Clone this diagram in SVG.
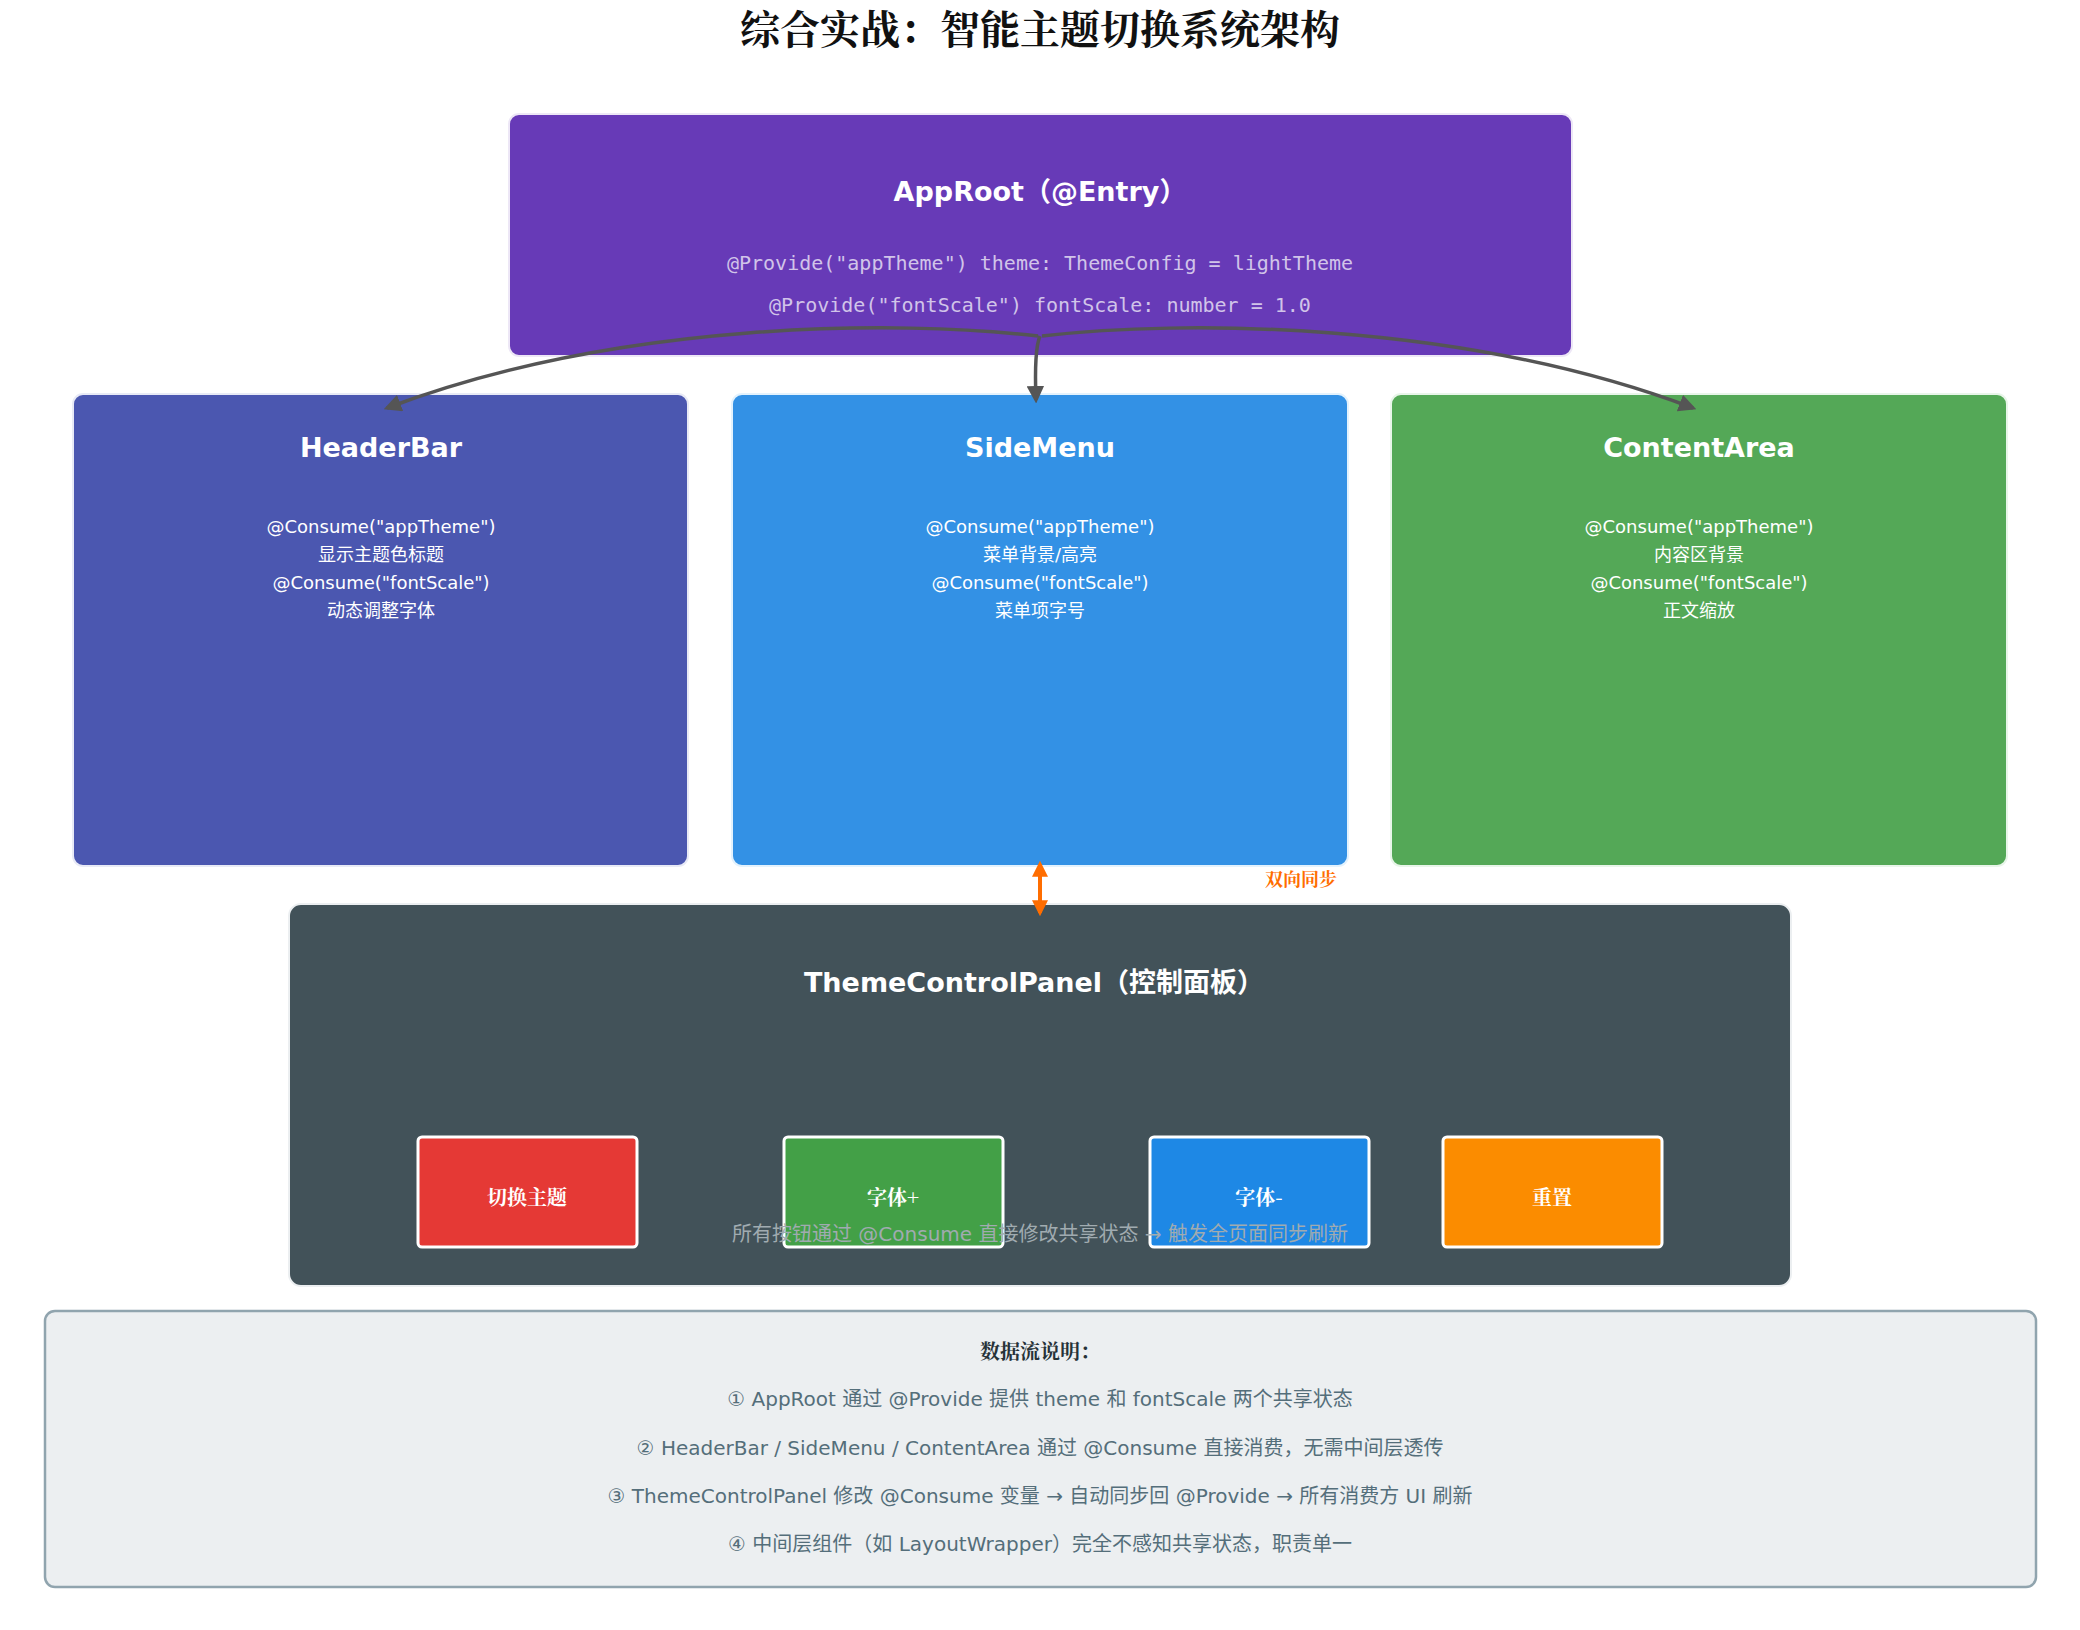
<svg xmlns="http://www.w3.org/2000/svg" width="2080" height="1630" viewBox="0 0 2080 1630">
<style>
.t{font-family:"DejaVu Sans","Noto Sans CJK SC",sans-serif;text-anchor:middle}
.s{font-family:"Noto Serif CJK SC","Noto Sans CJK SC",serif;font-weight:bold;text-anchor:middle}
.h{font-size:27px;font-weight:bold;fill:#fff}
.c{font-size:18px;fill:#fff}
.m{font-family:"DejaVu Sans Mono","Liberation Mono",monospace;font-size:20px;fill:#d1c4e9;text-anchor:middle}
.n{font-size:20px;fill:#546e7a}
.conn{fill:none;stroke:#555;stroke-width:3.5}
</style>
<defs>
<marker id="a" viewBox="0 0 10 10" refX="8" refY="5" markerWidth="5" markerHeight="5" orient="auto"><path d="M0,0L10,5L0,10z" fill="#555"/></marker>
<marker id="o" viewBox="0 0 10 10" refX="8" refY="5" markerWidth="4" markerHeight="4" orient="auto-start-reverse"><path d="M0,0L10,5L0,10z" fill="#ff6d00"/></marker>
</defs>
<rect width="2080" height="1630" fill="#fff"/>
<text class="s" x="1040" y="44" font-size="40" fill="#111">综合实战：智能主题切换系统架构</text>
<g id="approot"><rect x="509" y="114" width="1063" height="242" rx="10" fill="#673ab7" stroke="#ede7f6" stroke-width="2"/>
<text class="t h" x="1040" y="201">AppRoot（@Entry）</text>
<text class="m" x="1040" y="270">@Provide("appTheme") theme: ThemeConfig = lightTheme</text>
<text class="m" x="1040" y="312">@Provide("fontScale") fontScale: number = 1.0</text></g>
<g id="headerbar"><rect x="73" y="394" width="615" height="472" rx="10" fill="#4b57b0" stroke="#e8eaf6" stroke-width="2"/>
<text class="t h" x="381" y="457">HeaderBar</text>
<text class="t c" x="381" y="533">@Consume("appTheme")</text><text class="t c" x="381" y="561">显示主题色标题</text>
<text class="t c" x="381" y="589">@Consume("fontScale")</text><text class="t c" x="381" y="617">动态调整字体</text></g>
<g id="sidemenu"><rect x="732" y="394" width="616" height="472" rx="10" fill="#3391e5" stroke="#e3f2fd" stroke-width="2"/>
<text class="t h" x="1040" y="457">SideMenu</text>
<text class="t c" x="1040" y="533">@Consume("appTheme")</text><text class="t c" x="1040" y="561">菜单背景/高亮</text>
<text class="t c" x="1040" y="589">@Consume("fontScale")</text><text class="t c" x="1040" y="617">菜单项字号</text></g>
<g id="contentarea"><rect x="1391" y="394" width="616" height="472" rx="10" fill="#54a857" stroke="#e8f5e9" stroke-width="2"/>
<text class="t h" x="1699" y="457">ContentArea</text>
<text class="t c" x="1699" y="533">@Consume("appTheme")</text><text class="t c" x="1699" y="561">内容区背景</text>
<text class="t c" x="1699" y="589">@Consume("fontScale")</text><text class="t c" x="1699" y="617">正文缩放</text></g>
<g id="panel"><rect x="289" y="904" width="1502" height="382" rx="12" fill="#425259" stroke="#eceff1" stroke-width="2"/>
<text class="t h" x="1034" y="992">ThemeControlPanel（控制面板）</text></g>
<g id="btn1"><rect x="418" y="1137" width="219" height="110" rx="4" fill="#e53935" stroke="#fff" stroke-width="3"/><text class="s" x="527" y="1205" font-size="20" fill="#fff">切换主题</text></g>
<g id="btn2"><rect x="784" y="1137" width="219" height="110" rx="4" fill="#43a047" stroke="#fff" stroke-width="3"/><text class="s" x="893" y="1205" font-size="20" fill="#fff">字体+</text></g>
<g id="btn3"><rect x="1150" y="1137" width="219" height="110" rx="4" fill="#1e88e5" stroke="#fff" stroke-width="3"/><text class="s" x="1259" y="1205" font-size="20" fill="#fff">字体-</text></g>
<g id="btn4"><rect x="1443" y="1137" width="219" height="110" rx="4" fill="#fb8c00" stroke="#fff" stroke-width="3"/><text class="s" x="1552" y="1205" font-size="20" fill="#fff">重置</text></g>
<text class="t" x="1040" y="1241" font-size="20" fill="#a0abb0">所有按钮通过 @Consume 直接修改共享状态 → 触发全页面同步刷新</text>
<g id="connectors">
<path class="conn" d="M1038,336 C900,320 620,320 387,408" marker-end="url(#a)"/>
<path class="conn" d="M1042,336 C1180,320 1460,320 1693,408" marker-end="url(#a)"/>
<path class="conn" d="M1040,336 Q1034,350 1036,400" marker-end="url(#a)"/>
<line x1="1040" y1="864" x2="1040" y2="913" stroke="#ff6d00" stroke-width="4" marker-start="url(#o)" marker-end="url(#o)"/>
<text class="s" x="1301" y="886" font-size="18" fill="#ff6d00">双向同步</text>
</g>
<g id="notes"><rect x="45" y="1311" width="1991" height="276" rx="10" fill="#eceff1" stroke="#90a4ae" stroke-width="2.5"/>
<text class="s" x="1040" y="1359" font-size="20" fill="#263238">数据流说明：</text>
<text class="t n" x="1040" y="1406">① AppRoot 通过 @Provide 提供 theme 和 fontScale 两个共享状态</text>
<text class="t n" x="1040" y="1455">② HeaderBar / SideMenu / ContentArea 通过 @Consume 直接消费，无需中间层透传</text>
<text class="t n" x="1040" y="1503">③ ThemeControlPanel 修改 @Consume 变量 → 自动同步回 @Provide → 所有消费方 UI 刷新</text>
<text class="t n" x="1040" y="1551">④ 中间层组件（如 LayoutWrapper）完全不感知共享状态，职责单一</text></g>
</svg>
